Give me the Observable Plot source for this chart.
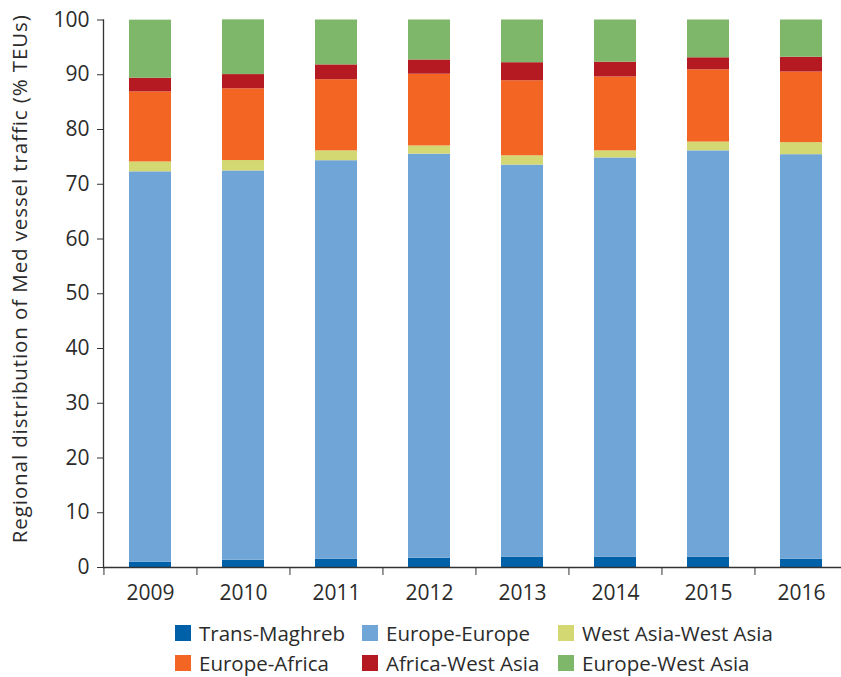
<!DOCTYPE html>
<html><head><meta charset="utf-8">
<script src="https://cdn.jsdelivr.net/npm/d3@7"></script>
<script src="https://cdn.jsdelivr.net/npm/@observablehq/plot@0.6"></script>
<style>
body{margin:0;background:#fff;font-family:"Open Sans",sans-serif;}
#chart svg{display:block;overflow:visible;}
.legend{display:grid;grid-template-columns:187px 196px auto;margin-left:175px;margin-top:2px;font-size:20.5px;color:#2b2b2b;line-height:30px;}
.legend span.item{display:flex;align-items:center;white-space:nowrap;}
.legend i{display:inline-block;width:16px;height:16px;margin-right:8px;}
</style></head><body><div id="chart"></div><script>
const years = ["2009","2010","2011","2012","2013","2014","2015","2016"];
const series = ["Trans-Maghreb","Europe-Europe","West Asia-West Asia","Europe-Africa","Africa-West Asia","Europe-West Asia"];
const colors = ["#0060a8","#6fa5d7","#d4d873","#f26522","#b51921","#7eb769"];
const transMaghreb   = [0.97,1.33,1.5,1.7,1.9,1.9,1.9,1.5];
const europeEurope   = [71.3,71.1,72.8,73.8,71.6,72.9,74.2,73.9];
const westAsiaWestAsia = [1.8,1.9,1.8,1.5,1.7,1.3,1.6,2.2];
const europeAfrica   = [12.8,13.1,13.0,13.1,13.7,13.5,13.2,12.9];
const africaWestAsia = [2.5,2.6,2.7,2.6,3.3,2.7,2.2,2.7];
const europeWestAsia = [10.6,10.0,8.2,7.3,7.8,7.7,6.9,6.8];
const yTicks = [0,10,20,30,40,50,60,70,80,90,100];
const yLabel = "Regional distribution of Med vessel traffic (% TEUs)";

const valueArrays = [transMaghreb, europeEurope, westAsiaWestAsia, europeAfrica, africaWestAsia, europeWestAsia];
const data = [];
series.forEach((s, i) => years.forEach((y, j) => data.push({year: y, series: s, value: valueArrays[i][j]})));

const W = 841, H = 616;
const xRange = [103, 848];
const step = (xRange[1] - xRange[0]) / years.length;

const chart = Plot.plot({
  width: W, height: H,
  marginLeft: 103, marginRight: 0, marginTop: 19.5, marginBottom: 49,
  style: {fontFamily: "'Open Sans', sans-serif", fontSize: "20.5px", color: "#2b2b2b", background: "#fff"},
  x: {domain: years, range: xRange, paddingInner: 0.549, paddingOuter: 0.2745, align: 0.5, axis: null},
  y: {domain: [0, 100], axis: null},
  color: {domain: series, range: colors},
  marks: [
    Plot.barY(data, Plot.stackY({x: "year", y: "value", fill: "series", order: series})),
    Plot.frame({anchor: "left", stroke: "#333", strokeWidth: 1.3}),
    Plot.ruleY([0], {stroke: "#333", strokeWidth: 1.3}),
    Plot.axisY({ticks: yTicks, tickSize: 6, tickPadding: 8, stroke: "#333", label: null, fill: "#2b2b2b", fontSize: 21}),
    Plot.axisX({tickSize: 8, dx: -step / 2, fill: "none", stroke: "#333", label: null}),
    Plot.axisX({tickSize: 0, tickPadding: 18, fill: "#2b2b2b", label: null, fontSize: 21}),
    Plot.text([yLabel], {text: d => d, frameAnchor: "left", textAnchor: "middle", dx: -83, dy: -15, rotate: -90, fontSize: 20.5, fill: "#2b2b2b", style: "letter-spacing:0.35px"})
  ]
});
document.getElementById("chart").appendChild(chart);
chart.querySelectorAll("text").forEach(t => { if (t.textContent === yLabel) t.style.letterSpacing = "0.9px"; });

const legend = document.createElement("div");
legend.className = "legend";
series.forEach((s, i) => {
  const item = document.createElement("span");
  item.className = "item";
  item.innerHTML = `<i style="background:${colors[i]}"></i>${s}`;
  legend.appendChild(item);
});
document.body.appendChild(legend);
</script></body></html>
